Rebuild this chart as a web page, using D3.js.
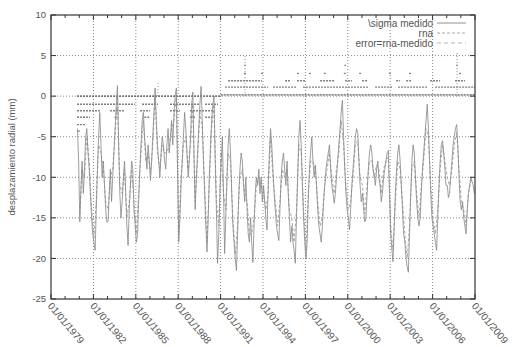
<!DOCTYPE html>
<html><head><meta charset="utf-8">
<script src="https://cdn.jsdelivr.net/npm/d3@7/dist/d3.min.js"></script>
<style>body{margin:0;background:#fff}svg{display:block}</style>
</head><body><svg id="c" width="515" height="347"></svg>
<script>
// ---- data ----
const tickYears = [1979,1982,1985,1988,1991,1994,1997,2000,2003,2006,2009];
const yTicks = [-25,-20,-15,-10,-5,0,5,10];
const seriesNames = ["\\sigma medido","rna","error=rna-medido"];
// monthly measured values, starting Nov 1980
const medidoStart = [1980, 10];
const medidoValues = [
 -4,-8,
 -15.5,-11,-8,-12,-9,-5,-4,-7,-9,-12,-15,-17,
 -18,-19,-14,-9,-5,-2,-6,-10,-8,-11,-14,-15.5,
 -15.5,-12,-9,-13,-10,-7,-4,-1,1.3,-6,-12,-15,
 -13,-10,-8,-12,-16,-18.4,-14,-11,-8,-9,-14,-16,
 -18,-17,-13,-9,-6,-3,-2,-5,-7,-9,-6,-8,
 -10.4,-8,-5,-2,1,-3,-6,-8,-10,-7,-5,-6,
 -8,-9,-6,-4,-7,-5,-3,-6,-2,0,1,-9,
 -18,-15,-11,-8,-5,-2,-4,-7,-10,-8,-5,-1,
 0.5,-8,-14,-10,-7,-4,-1,1.2,-3,-8,-12,-16,
 -19.2,-15,-10,-6,-3,-1,0,-8,-14,-20.6,-17,-12,
 -8,-5,-11,-19.4,-15,-10,-6,-4,-7,-12,-16,-18,
 -20,-21.5,-17,-12,-9,-7,-8,-11,-13,-10,-14,-17,
 -18,-15,-18,-20.5,-16,-12,-10,-11,-9,-12,-10,-13,
 -11,-13,-15,-16.5,-11,-7,-4,-6,-9,-12,-14,-16,
 -17,-17.8,-14,-10,-8,-7,-9,-11,-8,-12,-15,-18,
 -16,-18,-19,-20.6,-15,-10,-5,-3,-6,-11,-15,-18,
 -20,-18,-13,-9,-7,-5,-8,-10,-8.5,-11,-14,-16,
 -17,-18,-16,-13,-11,-9,-8,-7,-6,-9,-11,-12,
 -13.2,-12,-10,-8,-6,-4,-2,-0.5,-5,-9,-12,-14,
 -15,-16.5,-14,-11,-9,-7,-5,-4,-4.5,-8,-11,-13,
 -12,-14,-15.5,-15,-12,-9,-7,-6,-7,-9,-10,-11,
 -9,-8,-10,-11,-13,-12,-10,-9,-8,-7,-6.7,-12,
 -17,-19,-20.4,-16,-12,-9,-7,-6,-8,-11,-14,-17,
 -18,-20,-21,-21.7,-17,-12,-8,-6,-7,-10,-13,-15,
 -16,-15,-12,-9,-7,-5,-3,-1,-4,-8,-12,-15,
 -16,-17,-18,-19,-15,-11,-8,-6,-5.5,-7,-9,-11,
 -11,-12.5,-12,-10,-8,-6,-5,-4,-3.5,-6,-10,-13,
 -14,-13,-15,-16,-17,-14,-12,-11,-10,-10.5,-11,-12
];
// bimonthly model (rna) values, starting Jan 1981
const rnaStart = [1981, 0];
const rnaValues = [
 -14.5,-9,-10,-5,-8,-14,
 -17.5,-13,-6,-7,-9,-13,
 -14,-10,-9,-5,0,-11,
 -12,-9,-15,-13,-9,-13,
 -17,-12,-7,-3,-8,-7,
 -9.5,-6,0,-7,-9,-6,
 -7,-7,-6,-4,-3,0,
 -17,-10,-6,-5,-9,-6,
 -1,-13,-8,-2,-4,-11,
 -18,-11,-4,-1,-13,-16,
 -7,-12,-14,-7,-8,-15,
 -19.5,-16,-10,-9,-12,-13,
 -17,-17,-15,-11,-10,-11,
 -12,-14,-12,-5,-10,-13,
 -16,-13,-9,-10,-9,-14,
 -15,-18,-14,-6,-7,-14,
 -19,-12,-8,-8,-9,-13,
 -16,-15,-11,-9,-7,-10,
 -12,-9,-7,-3,-6,-11,
 -14,-13,-10,-6,-5.5,-10,
 -11,-14.5,-11,-8,-8,-10,
 -8.5,-9,-12,-9,-8,-7.5,
 -16,-19,-13,-8,-9,-13,
 -17,-20,-16,-9,-8,-12,
 -15,-11,-8,-4,-5,-11,
 -15,-17,-14,-9,-6,-8,
 -10,-11,-9,-6,-4.5,-9,
 -13,-14,-16,-12,-10.5,-10
];
// error (rna - medido): quantized levels, as runs of points
const errStart = [1980.84,1980.84,1985.44,1987.42,1989.9,1980.84,1983.18,1985.3,1987.42,1988.84,1980.84,1983.5,1985.6,1988.84,1989.9,1980.84,1980.9,
 1991.0,1991.31,1994.71,1996.83,2001.93,2003.56,2006.18,
 1991.53,1995.56,1996.41,1998.04,1999.81,2001.01,2003.42,2004.13,2005.82,2007.59,
 1992.65,1993.85,1996.4,1997.25,1998.3,1999.72,2000.8,2002.9,2004.33,2007.87,
 1992.68,1999.76,2007.68];
const errEnd = [1990.96,1984.94,1986.57,1989.54,1990.82,1982.47,1984.24,1986.0,1988.13,1990.6,1981.76,1983.75,1986.0,1989.19,1990.4,1981.41,1981.1,
 2009.0,1994.36,1996.41,2001.43,2003.13,2005.68,2009.0,
 1993.93,1995.91,1996.98,1999.1,2000.3,2001.43,2003.7,2004.48,2006.53,2008.3,
 1992.85,1994.05,1996.6,1997.45,1998.5,1999.92,2001.0,2003.1,2004.53,2008.07,
 1992.8,1999.88,2007.8];
const errLevel = [0,-1,-1,-1,-1,-1.8,-1.8,-1.8,-1.8,-1.8,-2.6,-2.6,-2.6,-2.6,-2.6,-3.5,-4.3,
 0.15,1.1,1.1,1.1,1.1,1.1,1.1,
 1.9,1.9,1.9,1.9,1.9,1.9,1.9,1.9,1.9,1.9,
 2.8,2.8,2.8,2.8,2.8,2.8,2.8,2.8,2.8,2.8,
 3.8,3.8,3.8];
const spikeYears = [1986.57,1992.73,2007.73];
const spikeTops = [1.7,5.2,5.5];

// ---- drawing ----
const svg = d3.select("#c");
const L=51,R=475,T=15,B=299;
const x = d3.scaleTime().domain([new Date(1979,0,1), new Date(2009,0,1)]).range([L,R]);
const y = d3.scaleLinear().domain([-25,10]).range([B,T]);
const yr = v => { const yy=Math.floor(v); return new Date(yy,0,1).getTime() + (v-yy)*365.25*864e5; };
const font = "'Liberation Sans', Arial, sans-serif";

// grid
const g = svg.append("g");
g.selectAll(".vg").data(tickYears.slice(1,-1)).enter().append("line")
 .attr("x1",d=>x(new Date(d,0,1))).attr("x2",d=>x(new Date(d,0,1)))
 .attr("y1",T).attr("y2",B).attr("stroke","#8a8a8a").attr("stroke-width",1).attr("stroke-dasharray","1,2");
g.selectAll(".hg").data(yTicks.slice(1,-1)).enter().append("line")
 .attr("x1",L).attr("x2",R).attr("y1",d=>y(d)).attr("y2",d=>y(d))
 .attr("stroke","#8a8a8a").attr("stroke-width",1).attr("stroke-dasharray","1,2");

// error series
const eg = svg.append("g");
eg.selectAll("line.e").data(errLevel.map((v,i)=>({a:errStart[i],b:errEnd[i],v}))).enter().append("line")
 .attr("x1",d=>x(yr(d.a))).attr("x2",d=>x(yr(d.b))).attr("y1",d=>y(d.v)).attr("y2",d=>y(d.v))
 .attr("stroke",(d)=>d.v===0||d.v===0.15?"#555":"#808080").attr("stroke-width",1.3).attr("stroke-dasharray","2,1");
eg.selectAll("line.s").data(spikeYears.map((v,i)=>({t:v,top:spikeTops[i]}))).enter().append("line")
 .attr("x1",d=>x(yr(d.t))).attr("x2",d=>x(yr(d.t))).attr("y1",d=>y(0)).attr("y2",d=>y(d.top))
 .attr("stroke","#888").attr("stroke-width",1).attr("stroke-dasharray","1,2");

// rna series (dashed)
const rnaPts = rnaValues.map((v,i)=>({d:new Date(rnaStart[0], rnaStart[1]+2*i, 15), v}));
svg.append("path").datum(rnaPts)
 .attr("d", d3.line().x(d=>x(d.d)).y(d=>y(d.v)))
 .attr("fill","none").attr("stroke","#a0a0a0").attr("stroke-width",0.9).attr("stroke-dasharray","3,2");

// medido series
const medPts = medidoValues.map((v,i)=>({d:new Date(medidoStart[0], medidoStart[1]+i, 15), v}));
svg.append("path").datum(medPts)
 .attr("d", d3.line().x(d=>x(d.d)).y(d=>y(d.v)))
 .attr("fill","none").attr("stroke","#858585").attr("stroke-width",0.8);

// frame
svg.append("rect").attr("x",L).attr("y",T).attr("width",R-L).attr("height",B-T)
 .attr("fill","none").attr("stroke","#333").attr("stroke-width",1.2);

// y ticks
const yt = svg.append("g");
yt.selectAll("line.l").data(yTicks).enter().append("line")
 .attr("x1",L).attr("x2",L+5).attr("y1",d=>y(d)).attr("y2",d=>y(d)).attr("stroke","#333");
yt.selectAll("line.r").data(yTicks).enter().append("line")
 .attr("x1",R-5).attr("x2",R).attr("y1",d=>y(d)).attr("y2",d=>y(d)).attr("stroke","#333");
yt.selectAll("text").data(yTicks).enter().append("text")
 .attr("x",46).attr("y",d=>y(d)).attr("dy","0.35em").attr("text-anchor","end")
 .attr("font-family",font).attr("font-size",9.5).attr("fill","#555").text(d=>d);

// x ticks
const minorYears = d3.range(tickYears[0], tickYears[tickYears.length-1]+1);
const xt = svg.append("g");
xt.selectAll("line.m").data(minorYears).enter().append("line")
 .attr("x1",d=>x(new Date(d,0,1))).attr("x2",d=>x(new Date(d,0,1)))
 .attr("y1",B).attr("y2",d=>tickYears.includes(d)?B-5:B-3).attr("stroke","#333");
xt.selectAll("line.t").data(minorYears).enter().append("line")
 .attr("x1",d=>x(new Date(d,0,1))).attr("x2",d=>x(new Date(d,0,1)))
 .attr("y1",T).attr("y2",d=>tickYears.includes(d)?T+5:T+3).attr("stroke","#333");
xt.selectAll("text").data(tickYears).enter().append("text")
 .attr("transform",d=>`translate(${x(new Date(d,0,1))-1},${B+5}) rotate(50)`)
 .attr("text-anchor","start").attr("dy","0.35em")
 .attr("font-family",font).attr("font-size",10).attr("fill","#555")
 .text(d=>"01/01/"+d);

// y label
svg.append("text").attr("transform",`translate(15,${(T+B)/2}) rotate(-90)`)
 .attr("text-anchor","middle").attr("font-family",font).attr("font-size",9.5).attr("fill","#555")
 .text("desplazamiento radial (mm)");

// legend
const lg = svg.append("g");
const dashes = [null,"3,2","4,3"];
const lcol = ["#858585","#a0a0a0","#aaa"];
seriesNames.forEach((s,i)=>{
  const yy = 23 + i*10;
  lg.append("text").attr("x",433).attr("y",yy).attr("dy","0.35em").attr("text-anchor","end")
   .attr("font-family",font).attr("font-size",10).attr("fill","#555").text(s);
  lg.append("line").attr("x1",437).attr("x2",466).attr("y1",yy).attr("y2",yy)
   .attr("stroke",lcol[i]).attr("stroke-width",0.9).attr("stroke-dasharray",dashes[i]);
});
</script></body></html>
